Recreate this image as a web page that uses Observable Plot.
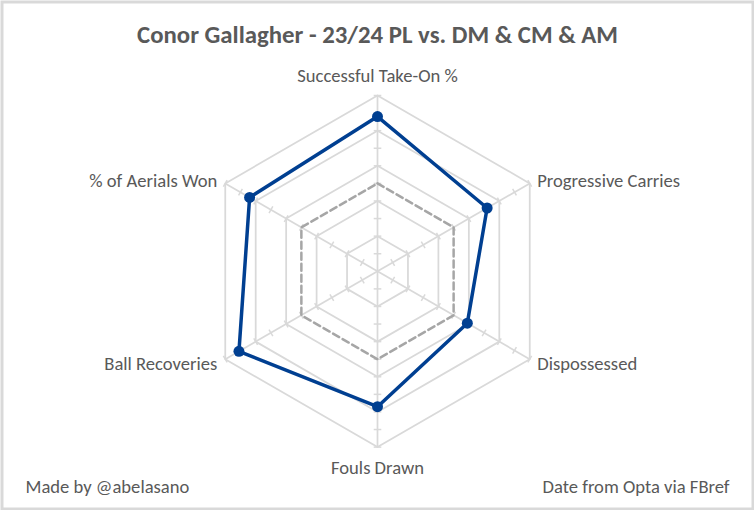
<!DOCTYPE html>
<html>
<head>
<meta charset="utf-8">
<script src="https://cdn.jsdelivr.net/npm/d3@7"></script>
<script src="https://cdn.jsdelivr.net/npm/@observablehq/plot@0.6"></script>
<style>
  html, body { margin: 0; padding: 0; background: #fff; }
  #chart svg { display: block; font-family: Carlito, Calibri, Lato, sans-serif; }
</style>
</head>
<body>
<div id="chart"></div>
<script>
// Percentile profile, 23/24 Premier League, compared with DM, CM & AM
const categories = ["Successful Take-On %", "Progressive Carries", "Dispossessed", "Fouls Drawn", "Ball Recoveries", "% of Aerials Won"];
const playerValues = [88, 72, 59, 77, 91, 84];
const averageValues = [50, 50, 50, 50, 50, 50];
const gridLevels = [20, 40, 60, 80, 100];
const tickLevels = [10, 20, 30, 40, 50, 60, 70, 80, 90, 100];
const title = "Conor Gallagher - 23/24 PL vs. DM & CM & AM";
const creditLeft = "Made by @abelasano";
const creditRight = "Date from Opta via FBref";

const W = 754, H = 510;
const cx = 377, cy = 270.8;      // centre of the radar, px
const pxPerUnit = 1.758;          // 100 percentile units = outer ring radius

const n = categories.length;
const angle = i => (i * 2 * Math.PI) / n;     // clockwise from top
const px = (r, i) => r * Math.sin(angle(i));
const py = (r, i) => r * Math.cos(angle(i));

const playerPts = playerValues.map((v, i) => ({x: px(v, i), y: py(v, i)}));
const averagePts = averageValues.map((v, i) => ({x: px(v, i), y: py(v, i)}));
const rings = gridLevels.flatMap(l => categories.map((c, i) => ({level: l, x: px(l, i), y: py(l, i)})));
const spokes = categories.map((c, i) => ({x1: 0, y1: 0, x2: px(100, i), y2: py(100, i)}));

// small perpendicular tick marks along every spoke
const half = 3.8 / pxPerUnit;
const ticks = categories.flatMap((c, i) => tickLevels.map(t => {
  const a = angle(i), ux = Math.cos(a), uy = -Math.sin(a);
  return {x1: px(t, i) - ux * half, y1: py(t, i) - uy * half, x2: px(t, i) + ux * half, y2: py(t, i) + uy * half};
}));

const labels = categories.map((c, i) => ({text: c, x: px(100, i), y: py(100, i), s: Math.sin(angle(i)), c: Math.cos(angle(i))}));
const onAxis = d => Math.abs(d.s) < 1e-6;
const topLabels = labels.filter(d => onAxis(d) && d.c > 0);
const bottomLabels = labels.filter(d => onAxis(d) && d.c < 0);
const upperRight = labels.filter(d => d.s > 1e-6 && d.c > 0);
const lowerRight = labels.filter(d => d.s > 1e-6 && d.c < 0);
const upperLeft = labels.filter(d => d.s < -1e-6 && d.c > 0);
const lowerLeft = labels.filter(d => d.s < -1e-6 && d.c < 0);

const grid = "#d9d9d9";
const textColor = "#595959";
const labelFont = {fill: textColor, fontSize: 18.6, lineAnchor: "middle"};
const label = (data, opts) => Plot.text(data, {x: "x", y: "y", text: "text", ...labelFont, ...opts});

const chart = Plot.plot({
  width: W,
  height: H,
  margin: 0,
  x: {domain: [-cx / pxPerUnit, (W - cx) / pxPerUnit], range: [0, W], axis: null},
  y: {domain: [-(H - cy) / pxPerUnit, cy / pxPerUnit], range: [H, 0], axis: null},
  marks: [
    Plot.frame({stroke: grid, strokeWidth: 3, inset: 1.5}),
    Plot.line(rings, {x: "x", y: "y", z: "level", curve: "linear-closed", stroke: grid, strokeWidth: 1.75}),
    Plot.link(spokes, {x1: "x1", y1: "y1", x2: "x2", y2: "y2", stroke: grid, strokeWidth: 1.75}),
    Plot.link(ticks, {x1: "x1", y1: "y1", x2: "x2", y2: "y2", stroke: grid, strokeWidth: 1.5}),
    Plot.line(averagePts, {x: "x", y: "y", curve: "linear-closed", stroke: "#a6a6a6", strokeWidth: 2.5, strokeDasharray: "7,4"}),
    Plot.line(playerPts, {x: "x", y: "y", curve: "linear-closed", stroke: "#003f91", strokeWidth: 3.5}),
    Plot.dot(playerPts, {x: "x", y: "y", r: 5.5, fill: "#003f91", stroke: "none"}),
    label(topLabels, {textAnchor: "middle", dy: -19}),
    label(bottomLabels, {textAnchor: "middle", dy: 21}),
    label(upperRight, {textAnchor: "start", dx: 7.5, dy: -2}),
    label(lowerRight, {textAnchor: "start", dx: 7.5, dy: 5}),
    label(upperLeft, {textAnchor: "end", dx: -8, dy: -2}),
    label(lowerLeft, {textAnchor: "end", dx: -8, dy: 5}),
    Plot.text([title], {frameAnchor: "top", dy: 35, lineAnchor: "middle", fill: textColor, fontSize: 24.8, fontWeight: 600}),
    Plot.text([creditLeft], {frameAnchor: "bottom-left", dx: 25, dy: -23, textAnchor: "start", ...labelFont}),
    Plot.text([creditRight], {frameAnchor: "bottom-right", dx: -25, dy: -23, textAnchor: "end", ...labelFont})
  ]
});

document.getElementById("chart").append(chart);
</script>
</body>
</html>
